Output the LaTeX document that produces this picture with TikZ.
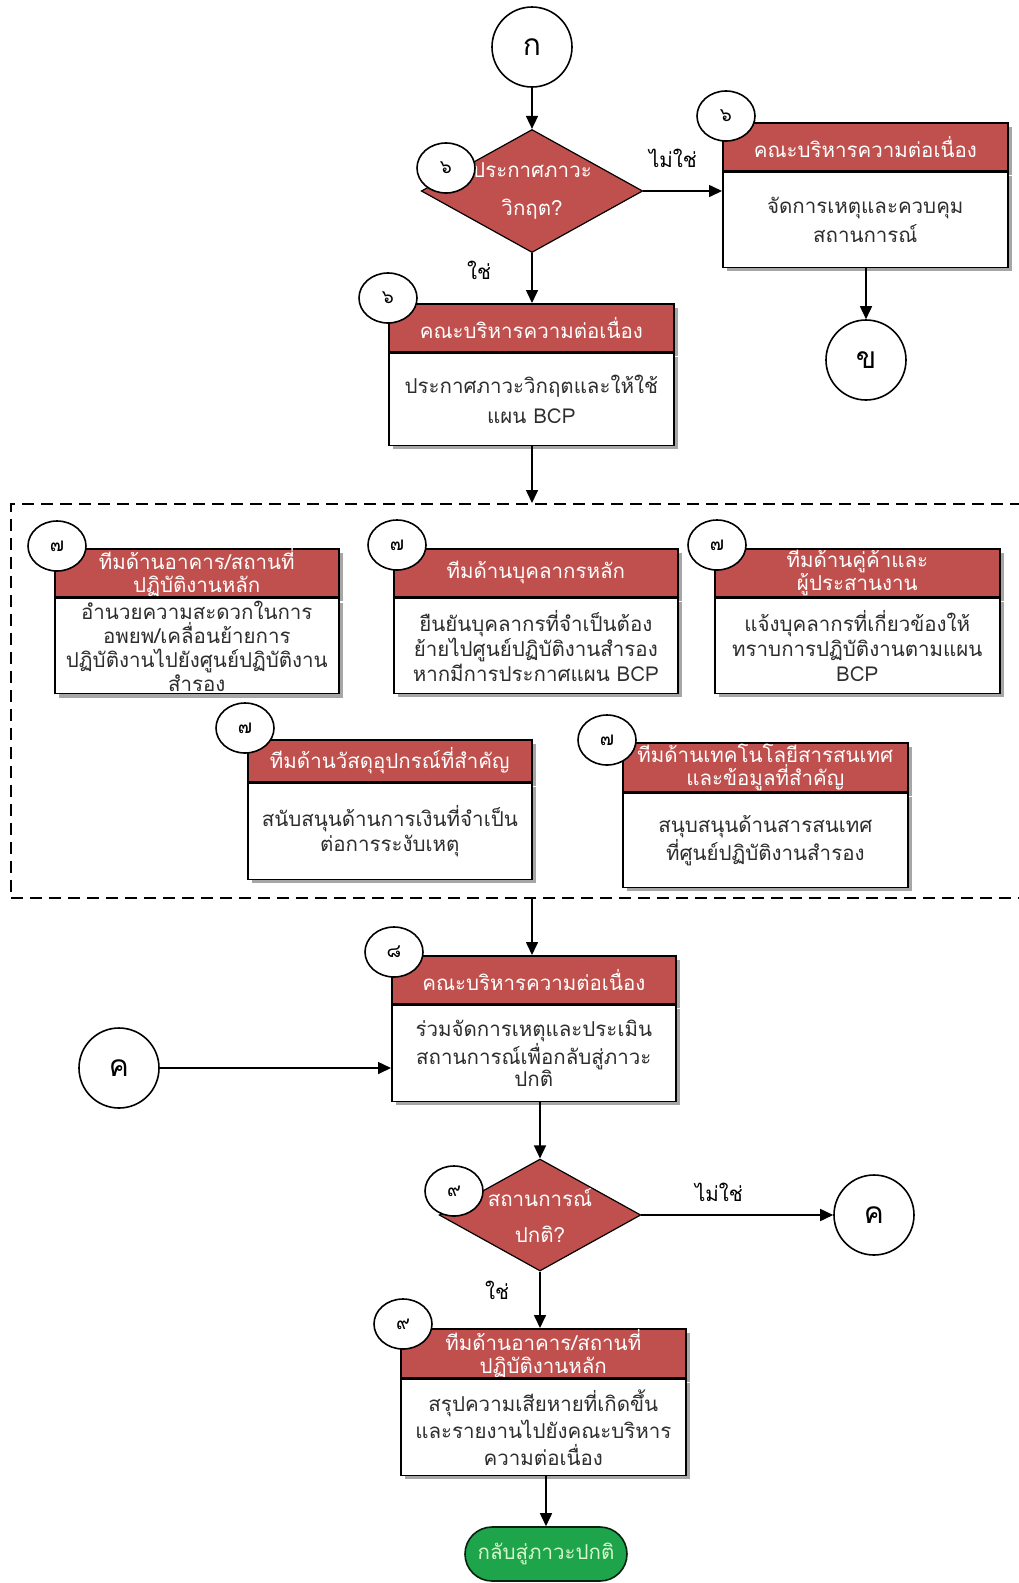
\documentclass[tikz,border=0pt]{standalone}
\usepackage{fontspec}
\newfontfamily\thai[Script=Thai]{Loma}
\usetikzlibrary{shapes.geometric,shapes.misc,arrows.meta,shadows}
\definecolor{hdrred}{RGB}{192,80,77}
\definecolor{termgreen}{RGB}{30,164,74}
\definecolor{termtext}{RGB}{214,248,204}
\definecolor{bodyink}{RGB}{45,45,45}

\tikzset{
  txt/.style={font=\thai\fontsize{20.5}{25}\selectfont},
  boxshadow/.style={drop shadow={shadow xshift=4pt,shadow yshift=-4pt,fill=black,opacity=0.35}},
  hdrbox/.style={txt, draw=black, line width=1.6pt, fill=hdrred, text=white,
    align=center, inner xsep=0pt, inner ysep=0pt, anchor=north west, boxshadow},
  bodybox/.style={txt, draw=black, line width=1.6pt, fill=white, text=bodyink,
    align=center, inner xsep=0pt, inner ysep=0pt, anchor=north, boxshadow},
  decision/.style={txt, diamond, draw=black, line width=1.2pt, fill=hdrred, text=white,
    align=center, inner sep=0pt, aspect=1.8},
  connector/.style={circle, draw=black, line width=1.6pt, fill=white, minimum size=80pt,
    inner sep=0pt, font=\thai\fontsize{30}{30}\selectfont},
  stepno/.style={ellipse, draw=black, line width=1.6pt, fill=white, minimum width=58pt,
    minimum height=50pt, inner sep=0pt, font=\thai\fontsize{19}{19}\selectfont},
  terminal/.style={txt, rounded rectangle, draw=black!80!termgreen, line width=1.6pt,
    fill=termgreen, text=termtext, minimum width=162pt, minimum height=54pt, inner sep=0pt},
  flow/.style={line width=1.6pt, -{Triangle[length=13pt,width=12pt]}},
  lbl/.style={txt, text=black, inner sep=0pt},
  hdrtwo/.style={font=\thai\fontsize{20.5}{23}\selectfont},
  frame/.style={draw=black, line width=1.6pt, dash pattern=on 12pt off 7pt, anchor=north west,
    minimum width=1040pt, minimum height=394pt, inner sep=0pt}
}

\begin{document}
\begin{tikzpicture}[x=1pt,y=-1pt]
\useasboundingbox[fill=white] (0,0) rectangle (1018,1583);

% ---- entry and first decision
\node[connector] (ka) at (532,47) {ก};
\node[decision, minimum width=196pt, minimum height=104pt,
      font=\thai\fontsize{20.5}{38}\selectfont] (d1) at (532,191) {ประกาศภาวะ\\วิกฤต?};

% ---- "no" branch
\node[hdrbox, text width=285pt, minimum height=48pt] (r1h) at (722,122) {คณะบริหารความต่อเนื่อง};
\node[bodybox, text width=285pt, minimum height=95pt,
      font=\thai\fontsize{20.5}{29}\selectfont] (r1b) at (r1h.south) {จัดการเหตุและควบคุม\\สถานการณ์};
\node[connector] (kha) at (866,360) {ข};

% ---- "yes" branch
\node[hdrbox, text width=285pt, minimum height=48pt] (m1h) at (388,303) {คณะบริหารความต่อเนื่อง};
\node[bodybox, text width=285pt, minimum height=92pt,
      font=\thai\fontsize{20.5}{30}\selectfont] (m1b) at (m1h.south) {ประกาศภาวะวิกฤตและให้ใช้\\แผน BCP};

% ---- team group
\node[frame] (grp) at (10,503) {};

\node[hdrbox, hdrtwo, text width=284pt, minimum height=48pt] (ah) at (54,548) {ทีมด้านอาคาร/สถานที่\\ปฏิบัติงานหลัก};
\node[bodybox, text width=284pt, minimum height=95pt,
      font=\thai\fontsize{20.5}{24}\selectfont] (ab) at (ah.south)
  {อำนวยความสะดวกในการ\\อพยพ/เคลื่อนย้ายการ\\ปฏิบัติงานไปยังศูนย์ปฏิบัติงาน\\สำรอง};

\node[hdrbox, text width=284pt, minimum height=48pt] (bh) at (393,548) {ทีมด้านบุคลากรหลัก};
\node[bodybox, text width=284pt, minimum height=95pt] (bb) at (bh.south)
  {ยืนยันบุคลากรที่จำเป็นต้อง\\ย้ายไปศูนย์ปฏิบัติงานสำรอง\\หากมีการประกาศแผน BCP};

\node[hdrbox, hdrtwo, text width=285pt, minimum height=48pt] (ch) at (714,548) {ทีมด้านคู่ค้าและ\\ผู้ประสานงาน};
\node[bodybox, text width=285pt, minimum height=95pt] (cb) at (ch.south)
  {แจ้งบุคลากรที่เกี่ยวข้องให้\\ทราบการปฏิบัติงานตามแผน\\BCP};

\node[hdrbox, text width=284pt, minimum height=42pt] (dh) at (247,739) {ทีมด้านวัสดุอุปกรณ์ที่สำคัญ};
\node[bodybox, text width=284pt, minimum height=96pt] (db) at (dh.south)
  {สนับสนุนด้านการเงินที่จำเป็น\\ต่อการระงับเหตุ};

\node[hdrbox, hdrtwo, text width=285pt, minimum height=49pt] (eh) at (622,742) {ทีมด้านเทคโนโลยีสารสนเทศ\\และข้อมูลที่สำคัญ};
\node[bodybox, text width=285pt, minimum height=94pt] (eb) at (eh.south)
  {สนุบสนุนด้านสารสนเทศ\\ที่ศูนย์ปฏิบัติงานสำรอง};

% ---- joint assessment
\node[hdrbox, text width=284pt, minimum height=48pt] (fh) at (391,955) {คณะบริหารความต่อเนื่อง};
\node[bodybox, text width=284pt, minimum height=96pt,
      font=\thai\fontsize{20.5}{22}\selectfont] (fb) at (fh.south)
  {ร่วมจัดการเหตุและประเมิน\\สถานการณ์เพื่อกลับสู่ภาวะ\\ปกติ};
\node[connector] (kc1) at (119,1068) {ค};

% ---- second decision
\node[decision, minimum width=196pt, minimum height=106pt,
      font=\thai\fontsize{20.5}{36}\selectfont] (d2) at (540,1215) {สถานการณ์\\ปกติ?};
\node[connector] (kc2) at (874,1215) {ค};

\node[hdrbox, hdrtwo, text width=285pt, minimum height=49pt] (gh) at (400,1328) {ทีมด้านอาคาร/สถานที่\\ปฏิบัติงานหลัก};
\node[bodybox, text width=285pt, minimum height=96pt,
      font=\thai\fontsize{20.5}{27}\selectfont] (gb) at (gh.south)
  {สรุปความเสียหายที่เกิดขึ้น\\และรายงานไปยังคณะบริหาร\\ความต่อเนื่อง};

\node[terminal] (end) at (546,1554) {กลับสู่ภาวะปกติ};

% ---- branch labels
\node[lbl] (no1) at (673,158) {ไม่ใช่};
\node[lbl] (yes1) at (479,270) {ใช่};
\node[lbl] (no2) at (719,1192) {ไม่ใช่};
\node[lbl] (yes2) at (497,1290) {ใช่};

% ---- connectors
\draw[flow] (ka) -- (d1.north);
\draw[flow] (d1.east) -- (d1.east -| r1b.west);
\draw[flow] (r1b.south -| kha) -- (kha.north);
\draw[flow] (d1.south) -- (d1.south |- m1h.north);
\draw[flow] (m1b.south -| d1) -- (d1 |- grp.north);
\draw[flow] (grp.south -| d1) -- (d1 |- fh.north);
\draw[flow] (kc1.east) -- (kc1.east -| fb.west);
\draw[flow] (fb.south -| d2) -- (d2.north);
\draw[flow] (d2.east) -- (d2.east -| kc2.west);
\draw[flow] (d2.south) -- (d2.south |- gh.north);
\draw[flow] (gb.south -| end) -- (end.north);

% ---- step numbers
\node[stepno] (n1) at (446,168) {๖};
\node[stepno] (n2) at (726,116) {๖};
\node[stepno] (n3) at (388,298) {๖};
\node[stepno] (n4) at (57,546) {๗};
\node[stepno] (n5) at (397,545) {๗};
\node[stepno] (n6) at (717,545) {๗};
\node[stepno] (n7) at (245,728) {๗};
\node[stepno] (n8) at (607,740) {๗};
\node[stepno] (n9) at (394,952) {๘};
\node[stepno] (n10) at (454,1191) {๙};
\node[stepno] (n11) at (403,1324) {๙};
\end{tikzpicture}
\end{document}
